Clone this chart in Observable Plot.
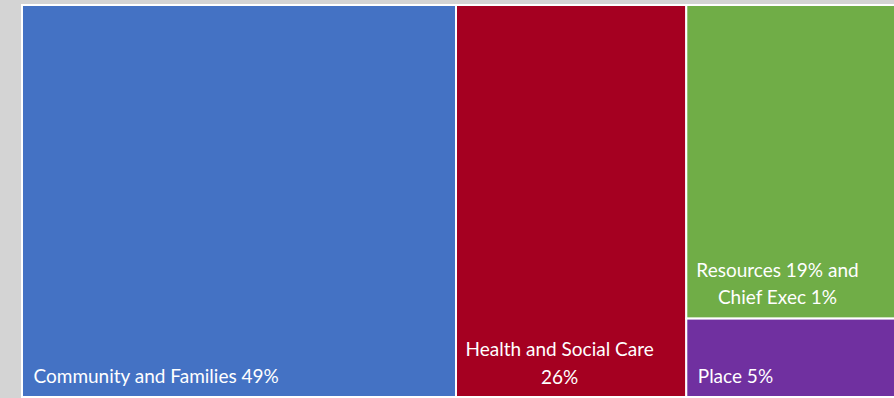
<!DOCTYPE html>
<html>
<head>
<meta charset="utf-8">
<script src="https://cdn.jsdelivr.net/npm/d3@7"></script>
<script src="https://cdn.jsdelivr.net/npm/@observablehq/plot@0.6"></script>
<style>
  html, body { margin: 0; padding: 0; background: #d4d4d4; overflow: hidden; }
  svg { display: block; }
</style>
</head>
<body>
<div id="chart"></div>
<script>
// Treemap data (percent of total)
const groups = ["Community and Families", "Health and Social Care", "Resources and Chief Exec", "Place"];
const values = [49, 26, 20, 5];
const labels = ["Community and Families 49%", "Health and Social Care\n26%", "Resources 19% and\nChief Exec 1%", "Place 5%"];
const colors = ["#4472C4", "#A50021", "#70AD47", "#7030A0"];

// Layout: first two slices are full-height columns, last two share a column stacked vertically
const colTotal = values[2] + values[3];
const cells = [
  {name: groups[0], label: labels[0], color: colors[0], x1: 0, x2: values[0], y1: 0, y2: 100},
  {name: groups[1], label: labels[1], color: colors[1], x1: values[0], x2: values[0] + values[1], y1: 0, y2: 100},
  {name: groups[2], label: labels[2], color: colors[2], x1: values[0] + values[1], x2: 100, y1: 0, y2: 100 * values[2] / colTotal},
  {name: groups[3], label: labels[3], color: colors[3], x1: values[0] + values[1], x2: 100, y1: 100 * values[2] / colTotal, y2: 100}
];

const W = 894, H = 398;
const chart = Plot.plot({
  width: W,
  height: H,
  margin: 0,
  style: {background: "#d4d4d4", fontFamily: "Lato, 'Open Sans', sans-serif"},
  x: {domain: [0, 100], range: [22, 22 + 434 / 0.49], axis: null},
  y: {domain: [0, 100], range: [5, 397], axis: null},
  marks: [
    Plot.rect(cells, {x1: "x1", x2: "x2", y1: "y1", y2: "y2", fill: "color", stroke: "white", strokeWidth: 2}),
    // Community and Families: bottom-left
    Plot.text([cells[0]], {x: "x1", y: "y2", text: "label", fill: "white", fontSize: 19, textAnchor: "start", lineAnchor: "bottom", dx: 11, dy: -15}),
    // Health and Social Care: centered, bottom
    Plot.text([cells[1]], {x: d => (d.x1 + d.x2) / 2, y: "y2", text: "label", fill: "white", fontSize: 19, textAnchor: "middle", lineAnchor: "bottom", lineHeight: 1.45, dx: -12, dy: -14}),
    // Resources: centered, bottom of green cell
    Plot.text([cells[2]], {x: d => (d.x1 + d.x2) / 2, y: "y2", text: "label", fill: "white", fontSize: 19, textAnchor: "middle", lineAnchor: "bottom", lineHeight: 1.45, dx: -20, dy: -15}),
    // Place: bottom-left
    Plot.text([cells[3]], {x: "x1", y: "y2", text: "label", fill: "white", fontSize: 19, textAnchor: "start", lineAnchor: "bottom", dx: 11, dy: -15})
  ]
});
document.getElementById("chart").appendChild(chart);
</script>
</body>
</html>
